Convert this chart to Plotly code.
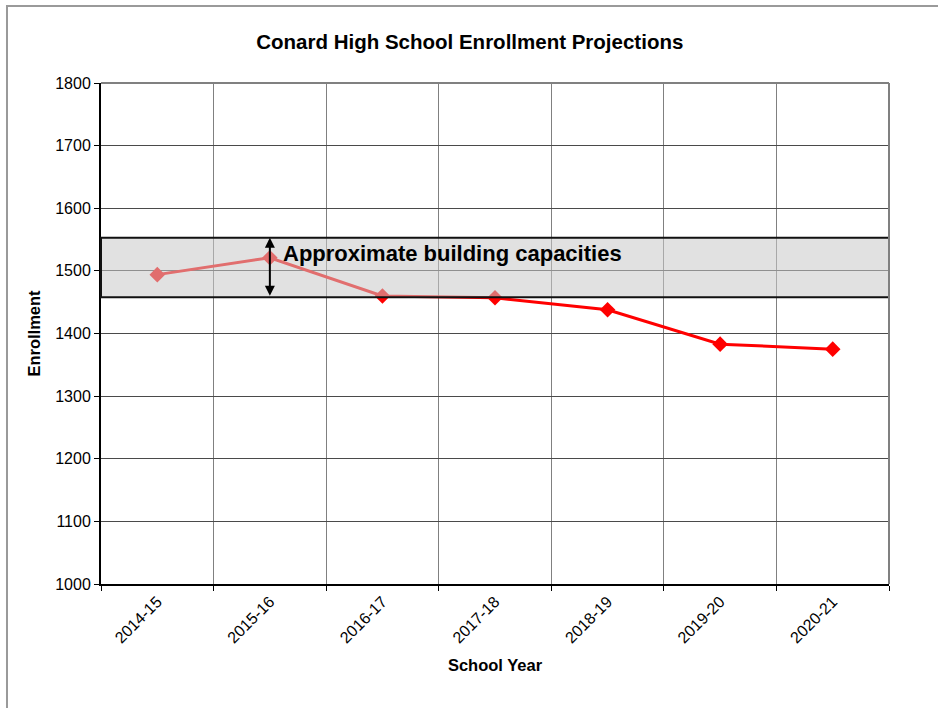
import plotly.graph_objects as go

years = ["2014-15", "2015-16", "2016-17", "2017-18", "2018-19", "2019-20", "2020-21"]
enrollment = [1494, 1521, 1460, 1457, 1438, 1383, 1375]
capacity_low = 1458
capacity_high = 1553
y_ticks = [1000, 1100, 1200, 1300, 1400, 1500, 1600, 1700, 1800]

FONT = "Liberation Sans, Arial, sans-serif"

fig = go.Figure()
fig.add_trace(go.Scatter(
    x=years, y=enrollment, mode="lines+markers",
    line=dict(color="#ff0000", width=3),
    marker=dict(symbol="diamond", size=12, color="#ff0000"),
    showlegend=False, hoverinfo="x+y",
))

# capacity band (drawn above the line, semi-transparent)
fig.add_shape(type="rect", xref="paper", yref="y", x0=0, x1=1,
              y0=capacity_low, y1=capacity_high, layer="above",
              fillcolor="rgba(200,200,200,0.55)",
              line=dict(color="#111111", width=2))

# outer chart border
fig.add_shape(type="rect", xref="paper", yref="paper",
              x0=-0.1193, x1=1.08, y0=-0.27, y1=1.1537, layer="below",
              fillcolor="rgba(0,0,0,0)", line=dict(color="#9a9a9a", width=2))

# double-headed arrow
fig.add_annotation(x="2015-16", y=capacity_high, ax="2015-16", ay=capacity_low,
                   xref="x", yref="y", axref="x", ayref="y",
                   showarrow=True, arrowhead=2, startarrowhead=2,
                   arrowside="end+start", arrowwidth=2, arrowsize=1,
                   arrowcolor="#000000", text="")
fig.add_annotation(x=1.1, y=1527, xref="x", yref="y", xanchor="left", yanchor="middle",
                   text="<b>Approximate building capacities</b>", showarrow=False,
                   font=dict(family=FONT, size=22, color="#000000"))

fig.update_layout(
    width=938, height=708,
    margin=dict(l=101, r=49, t=83, b=124),
    paper_bgcolor="white", plot_bgcolor="white",
    title=dict(text="<b>Conard High School Enrollment Projections</b>",
               x=0.468, xref="paper", xanchor="center", y=0.941, yanchor="middle",
               font=dict(family=FONT, size=20.5, color="#000000")),
    font=dict(family=FONT, size=16, color="#000000"),
)

fig.update_xaxes(
    type="category", tickson="boundaries", tickangle=-45,
    showgrid=True, gridcolor="#808080", gridwidth=1,
    showline=True, linecolor="#000000", linewidth=2, mirror=False,
    ticks="outside", ticklen=5, tickcolor="#000000",
    tickfont=dict(family=FONT, size=16),
    title=dict(text="<b>School Year</b>", font=dict(family=FONT, size=16.5), standoff=14),
    range=[-0.5, 6.5],
)
fig.update_yaxes(
    range=[1000, 1800], tickvals=y_ticks, ticktext=[str(v) for v in y_ticks],
    showgrid=True, gridcolor="#4a4a4a", gridwidth=1,
    showline=True, linecolor="#000000", linewidth=2,
    ticks="outside", ticklen=5, tickcolor="#000000",
    tickfont=dict(family=FONT, size=16),
    title=dict(text="<b>Enrollment</b>", font=dict(family=FONT, size=16.5), standoff=10),
    zeroline=False,
)

# right/top plot border in gray
fig.add_shape(type="line", xref="paper", yref="paper", x0=1, x1=1, y0=0, y1=1,
              line=dict(color="#808080", width=2))
fig.add_shape(type="line", xref="paper", yref="paper", x0=0, x1=1, y0=1, y1=1,
              line=dict(color="#808080", width=2))

fig.write_html("out.html", config={"displayModeBar": False},
               post_script="document.body.style.margin='0px';")
